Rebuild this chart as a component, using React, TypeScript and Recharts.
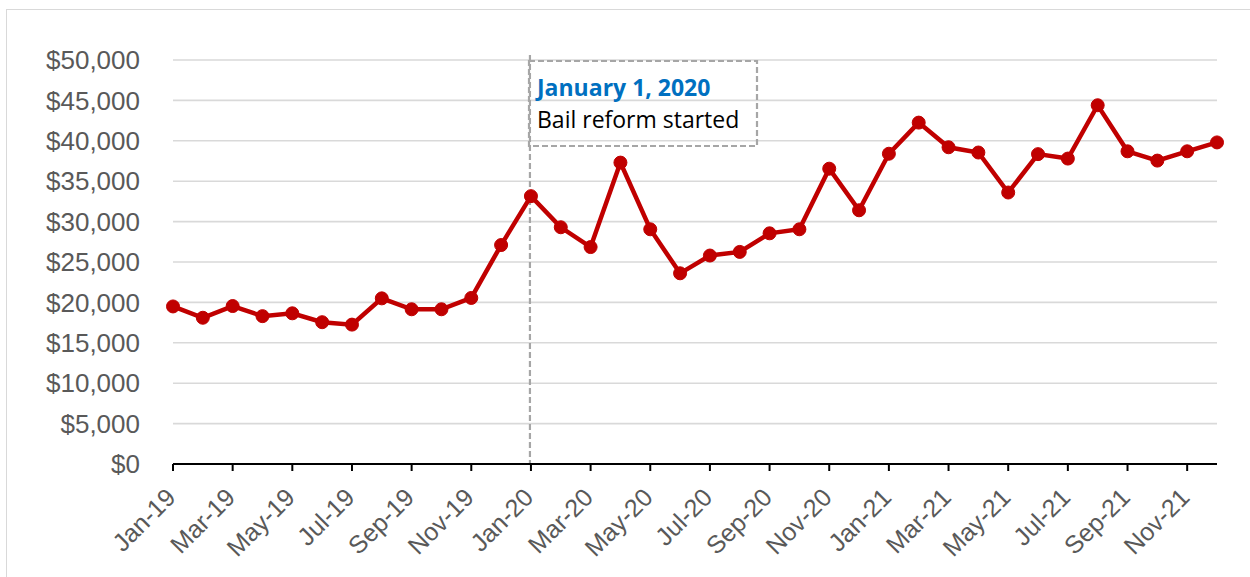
import React from 'react';
import { LineChart, Line, XAxis, YAxis, CartesianGrid, ReferenceLine } from 'recharts';

const months = [
    'Jan-19', 'Feb-19', 'Mar-19', 'Apr-19', 'May-19', 'Jun-19', 'Jul-19', 'Aug-19', 'Sep-19', 'Oct-19', 'Nov-19', 'Dec-19',
    'Jan-20', 'Feb-20', 'Mar-20', 'Apr-20', 'May-20', 'Jun-20', 'Jul-20', 'Aug-20', 'Sep-20', 'Oct-20', 'Nov-20', 'Dec-20',
    'Jan-21', 'Feb-21', 'Mar-21', 'Apr-21', 'May-21', 'Jun-21', 'Jul-21', 'Aug-21', 'Sep-21', 'Oct-21', 'Nov-21', 'Dec-21',
];

const bailAmounts = [
    19500, 18100, 19550, 18300, 18650, 17550, 17250, 20500, 19150, 19150, 20550, 27100,
    33150, 29300, 26850, 37300, 29050, 23600, 25800, 26250, 28550, 29050, 36550, 31400,
    38400, 42250, 39200, 38550, 33600, 38350, 37800, 44400, 38700, 37550, 38700, 39800,
];

const yTicks = [0, 5000, 10000, 15000, 20000, 25000, 30000, 35000, 40000, 45000, 50000];

const reformMonth = 'Jan-20';
const noteTitle = 'January 1, 2020';
const noteText = 'Bail reform started';

const data = months.map((m, i) => ({ month: m, amount: bailAmounts[i] }));

const axisFont = '"Liberation Sans", Arial, sans-serif';
const noteFont = '"Open Sans", "Noto Sans", sans-serif';

const YTick = ({ x, y, payload }: any) => (
    <text x={x} y={y} dy="0.355em" textAnchor="end" fill="#595959" fontSize={26} fontFamily={axisFont}>
        ${payload.value.toLocaleString('en-US')}
    </text>
);

const XTick = ({ x, y, payload }: any) => (
    <g transform={`translate(${x + 4},${y + 26})`}>
        <text textAnchor="end" transform="rotate(-45)" fill="#595959" fontSize={25} fontFamily={axisFont}>
            {payload.value}
        </text>
    </g>
);

// dashed marker reaches a little above the plot, like the original
const MarkerLine = (props: any) => {
    const top = Math.min(props.y1, props.y2) - 5;
    const bottom = Math.max(props.y1, props.y2);
    return <line x1={props.x1 - 1} x2={props.x2 - 1} y1={top} y2={bottom} stroke="#a6a6a6" strokeWidth={2.2} strokeDasharray="6 3" />;
};

export default function App() {
    return (
        <div style={{ position: 'fixed', left: 0, top: 0, width: 1250, height: 577, background: '#fff', overflow: 'hidden' }}>
            <div style={{ position: 'absolute', left: 6, top: 9, width: 1300, height: 700, border: '1.5px solid #d9d9d9' }} />
            <div style={{ position: 'absolute', left: 0, top: 0 }}>
                <LineChart width={1250} height={577} data={data} margin={{ top: 60, right: 33, bottom: 0, left: 0 }}>
                    <CartesianGrid vertical={false} stroke="#d9d9d9" strokeWidth={1.6} />
                    <XAxis
                        dataKey="month"
                        interval={1}
                        height={113}
                        axisLine={{ stroke: '#000', strokeWidth: 2.2 }}
                        tickLine={{ stroke: '#000', strokeWidth: 2 }}
                        tickSize={7}
                        tickMargin={2}
                        tick={<XTick />}
                    />
                    <YAxis
                        domain={[0, 50000]}
                        ticks={yTicks}
                        width={173}
                        axisLine={false}
                        tickLine={false}
                        tickSize={0}
                        tickMargin={33}
                        tick={<YTick />}
                    />
                    <ReferenceLine x={reformMonth} shape={MarkerLine} ifOverflow="visible" />
                    <Line
                        type="linear"
                        dataKey="amount"
                        stroke="#c00000"
                        strokeWidth={4.5}
                        dot={{ r: 6.5, fill: '#c00000', stroke: '#c00000', strokeWidth: 1 }}
                        activeDot={false}
                        isAnimationActive={false}
                    />
                </LineChart>
            </div>
            <svg style={{ position: 'absolute', left: 0, top: 0 }} width={1250} height={577}>
                <rect x={529} y={61} width={228} height={85} fill="none" stroke="#a6a6a6" strokeWidth={2.2} strokeDasharray="6 3" />
                <text x={537} y={96} fill="#0070c0" fontSize={23} fontWeight="bold" fontFamily={noteFont}>{noteTitle}</text>
                <text x={537} y={128} fill="#000" fontSize={23} fontFamily={noteFont}>{noteText}</text>
            </svg>
        </div>
    );
}
